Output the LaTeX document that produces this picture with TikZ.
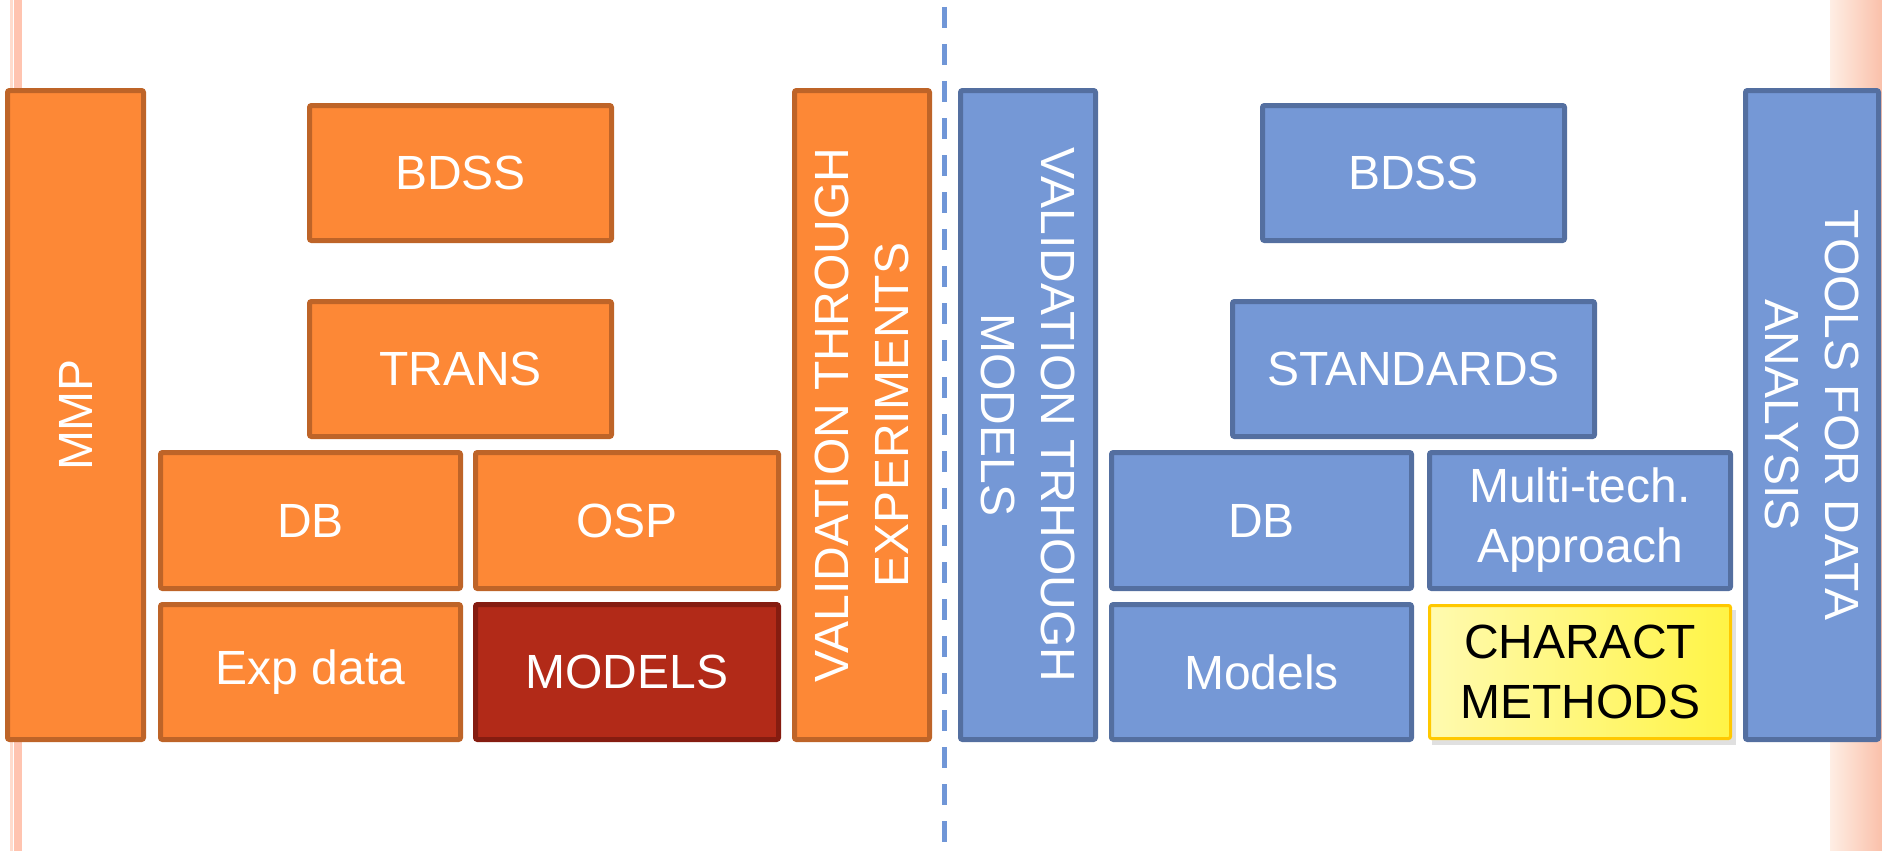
\documentclass[tikz,border=0pt]{standalone}
\usepackage{fontspec}
\setmainfont{Liberation Sans}
\definecolor{ofill}{RGB}{253,136,54}
\definecolor{oline}{RGB}{190,100,40}
\definecolor{rfill}{RGB}{178,42,24}
\definecolor{rline}{RGB}{133,28,16}
\definecolor{bfill}{RGB}{117,152,214}
\definecolor{bline}{RGB}{84,111,160}
\definecolor{yline}{RGB}{255,200,0}
\definecolor{yleft}{RGB}{255,250,175}
\definecolor{yright}{RGB}{255,244,70}
\definecolor{pinkA}{RGB}{255,220,205}
\definecolor{pinkB}{RGB}{255,196,176}
\definecolor{stripL}{RGB}{254,238,228}
\definecolor{stripR}{RGB}{250,192,170}
\definecolor{dashc}{RGB}{112,150,215}
\tikzset{
  boxbase/.style={rectangle, rounded corners=2pt, line width=5pt, inner sep=0pt, align=center,
    font=\fontsize{48}{60}\selectfont, text=white},
  obox/.style={boxbase, draw=oline, fill=ofill},
  rbox/.style={boxbase, draw=rline, fill=rfill},
  bbox/.style={boxbase, draw=bline, fill=bfill},
  ybox/.style={boxbase, line width=3pt, draw=yline, left color=yleft, right color=yright, text=black},
  dashline/.style={draw=dashc, line width=5pt, dash pattern=on 21pt off 16pt}
}
\begin{document}
\begin{tikzpicture}[x=1pt,y=-1pt]
\useasboundingbox (0,0) rectangle (1882,851);
% side decorations
\fill[pinkA] (10,0) rectangle (12.5,851);
\fill[pinkB] (14,0) rectangle (22,851);
\shade[left color=stripL, right color=stripR] (1830,0) rectangle (1882,851);
% divider
\coordinate (dtop) at (944,7);
\coordinate (dbot) at (944,851);
\draw[dashline] (dtop) -- (dbot);
% left half
\node[obox, minimum width=649pt, minimum height=136pt, rotate=90] (mmp) at (75.5,415) {MMP};
\node[obox, minimum width=302pt, minimum height=135pt] (bdssL) at (460.5,173) {BDSS};
\node[obox, minimum width=302pt, minimum height=135pt] (trans) at (460.5,369) {TRANS};
\node[obox, minimum width=300pt, minimum height=136pt] (dbL) at (310.5,520.5) {DB};
\node[obox, minimum width=303pt, minimum height=136pt] (osp) at (627,520.5) {OSP};
\node[obox, minimum width=300pt, minimum height=135pt] (exp) at (310.5,672) {Exp data};
\node[rbox, minimum width=303pt, minimum height=135pt] (modelsL) at (627,672) {MODELS};
\node[obox, minimum width=649pt, minimum height=135pt, rotate=90] (valexp) at (862,415) {VALIDATION THROUGH\\EXPERIMENTS};
% right half
\node[bbox, minimum width=649pt, minimum height=135pt, rotate=-90] (valmod) at (1028,415) {VALIDATION TRHOUGH\\MODELS};
\node[bbox, minimum width=302pt, minimum height=135pt] (bdssR) at (1413.5,173) {BDSS};
\node[bbox, minimum width=362pt, minimum height=135pt] (std) at (1413.5,369) {STANDARDS};
\node[bbox, minimum width=300pt, minimum height=136pt] (dbR) at (1261.5,520.5) {DB};
\node[bbox, minimum width=301pt, minimum height=136pt] (multi) at (1580,520.5) {Multi-tech.\\Approach};
\node[bbox, minimum width=300pt, minimum height=135pt] (modelsR) at (1261.5,672) {Models};
\fill[black!30, opacity=0.4] (1432,610) rectangle (1736,745);
\node[ybox, minimum width=301pt, minimum height=133pt] (charact) at (1580,672) {CHARACT\\METHODS};
\node[bbox, minimum width=649pt, minimum height=133pt, rotate=-90] (tools) at (1812,415) {TOOLS FOR DATA\\ANALYSIS};
\end{tikzpicture}
\end{document}
